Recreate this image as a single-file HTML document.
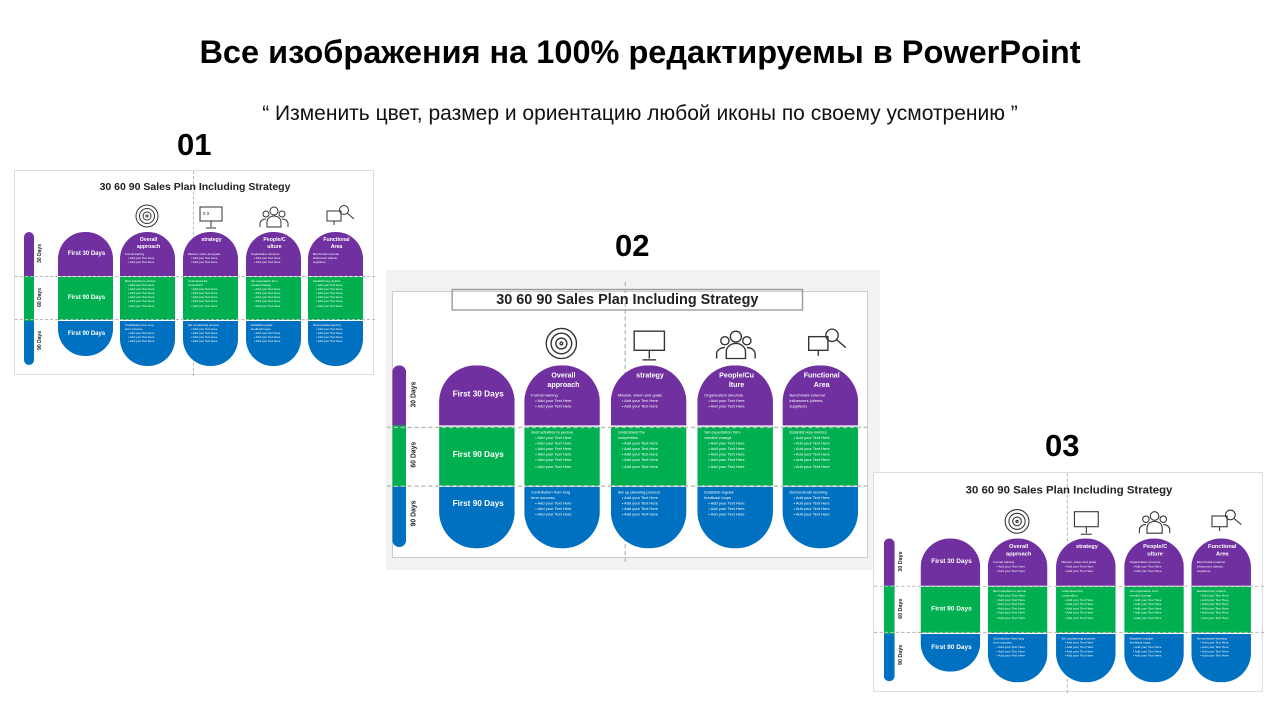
<!DOCTYPE html>
<html><head><meta charset="utf-8">
<style>
*{margin:0;padding:0;box-sizing:border-box}
body{width:1280px;height:720px;background:#fff;position:relative;overflow:hidden;font-family:"Liberation Sans",sans-serif}
.h1{position:absolute;top:34px;left:0;width:1280px;text-align:center;font-weight:bold;font-size:32.5px;color:#000}
.h2{position:absolute;top:102px;left:0;width:1280px;text-align:center;font-size:21px;color:#111}
.num{position:absolute;font-weight:bold;font-size:31px;color:#000}
.slide{position:absolute;width:360px;height:205px;background:#fff;border:1px solid #ddd;transform-origin:0 0}
.st{position:absolute;top:10px;left:0;width:360px;text-align:center;font-weight:bold;font-size:10.5px;color:#222}
.bar{position:absolute;left:9px;top:61px;width:10px;height:133px;border-radius:5px;overflow:hidden}
.bar div{height:33.3%}
.dl{position:absolute;left:22px;width:16px;font-size:5px;font-weight:bold;color:#222;writing-mode:vertical-rl;transform:rotate(180deg);text-align:center}
.col{position:absolute;top:61px;width:55px;height:134px;border-radius:27px;overflow:hidden;color:#fff}
.col>div{position:absolute;left:0;width:100%;padding:0 3px 0 5px}
.p{background:#7030a0;top:0;height:44px}
.g{background:#00b050;top:45px;height:43px}
.b{background:#0070c0;top:89px;height:45px}
.hd{text-align:center;font-weight:bold;font-size:5.2px;line-height:6.5px;padding-top:5px}
.tx{font-size:2.9px;line-height:4.1px;padding-top:2px;text-align:left}
.tx i{font-style:normal;display:block;padding-left:3px}
.big{font-weight:bold;font-size:6px;text-align:center}
.dash{position:absolute;border-color:#bbb;border-style:dashed;border-width:0}
</style></head><body>
<div class="h1">Все изображения на 100% редактируемы в PowerPoint</div>
<div class="h2">“ Изменить цвет, размер и ориентацию любой иконы по своему усмотрению ”</div>
<div class="num" style="left:177px;top:127px">01</div>
<div class="num" style="left:615px;top:228px">02</div>
<div class="num" style="left:1045px;top:428px">03</div>
<div style="position:absolute;left:386px;top:270px;width:494px;height:300px;background:#f2f2f2"></div>
<div style="position:absolute;left:392px;top:291px;width:476px;height:267px;background:#fff;border:1px solid #ccc"></div>

<div class="slide" style="left:14px;top:170px">
<div class="dash" style="left:178px;top:0;height:205px;border-left-width:1px"></div>
<div class="st">30 60 90 Sales Plan Including Strategy</div>
<svg style="position:absolute;left:0;top:0" width="360" height="205"><g fill="none" stroke="#333" stroke-width="1">
<circle cx="132" cy="45" r="11"/><circle cx="132" cy="45" r="7.5"/><circle cx="132" cy="45" r="4"/><circle cx="132" cy="45" r="1"/>
<rect x="185" y="36" width="22" height="14"/><line x1="196" y1="50" x2="196" y2="56"/><line x1="191" y1="57" x2="201" y2="57"/>
<text x="188" y="44" font-size="5" fill="#222" stroke="none">x x</text>
<circle cx="259" cy="40" r="4"/><path d="M252 56v-5a7 6 0 0 1 14 0v5z"/><circle cx="251" cy="43" r="3"/><circle cx="267" cy="43" r="3"/><path d="M245 56v-4a6 5 0 0 1 6-4M273 56v-4a6 5 0 0 0-6-4"/>
<rect x="312" y="40" width="14" height="10"/><line x1="319" y1="50" x2="319" y2="54"/><circle cx="329" cy="39" r="4.5"/><line x1="332" y1="42" x2="339" y2="48"/>
</g></svg>
<div class="bar"><div style="background:#7030a0"></div><div style="background:#00b050"></div><div style="background:#0070c0"></div></div>
<div class="dl" style="top:73px">30 Days</div><div class="dl" style="top:117px">60 Days</div><div class="dl" style="top:160px">90 Days</div>
<div class="col" style="left:43px;height:124px"><div class="p"><div class="big" style="padding-top:19px">First 30 Days</div></div><div class="g"><div class="big" style="padding-top:18px">First 90 Days</div></div><div class="b" style="height:35px"><div class="big" style="padding-top:10px">First 90 Days</div></div></div>
<div class="col" style="left:105px"><div class="p"><div class="hd">Overall<br>approach</div><div class="tx">Formal training<i>• Add your Text Here</i><i>• Add your Text Here</i></div></div><div class="g"><div class="tx">Best activities to pursue<i>• Add your Text Here</i><i>• Add your Text Here</i><i>• Add your Text Here</i><i>• Add your Text Here</i><i>• Add your Text Here</i><i>• Add your Text Here</i></div></div><div class="b"><div class="tx">Contribution from long<br>term success.<i>• Add your Text Here</i><i>• Add your Text Here</i><i>• Add your Text Here</i></div></div></div>
<div class="col" style="left:168px"><div class="p"><div class="hd">strategy<br>&nbsp;</div><div class="tx">Mission, vision and goals<i>• Add your Text Here</i><i>• Add your Text Here</i></div></div><div class="g"><div class="tx">Understand the<br>competition<i>• Add your Text Here</i><i>• Add your Text Here</i><i>• Add your Text Here</i><i>• Add your Text Here</i><i>• Add your Text Here</i></div></div><div class="b"><div class="tx">Set up planning process<i>• Add your Text Here</i><i>• Add your Text Here</i><i>• Add your Text Here</i><i>• Add your Text Here</i></div></div></div>
<div class="col" style="left:231px"><div class="p"><div class="hd">People/C<br>ulture</div><div class="tx">Organization structure<i>• Add your Text Here</i><i>• Add your Text Here</i></div></div><div class="g"><div class="tx">Set expectation form<br>needed change<i>• Add your Text Here</i><i>• Add your Text Here</i><i>• Add your Text Here</i><i>• Add your Text Here</i><i>• Add your Text Here</i></div></div><div class="b"><div class="tx">Establish regular<br>feedback loops<i>• Add your Text Here</i><i>• Add your Text Here</i><i>• Add your Text Here</i></div></div></div>
<div class="col" style="left:293px"><div class="p"><div class="hd">Functional<br>Area</div><div class="tx">Benchmark external<br>influencers (clients,<br>suppliers)</div></div><div class="g"><div class="tx">Establish key metrics<i>• Add your Text Here</i><i>• Add your Text Here</i><i>• Add your Text Here</i><i>• Add your Text Here</i><i>• Add your Text Here</i><i>• Add your Text Here</i></div></div><div class="b"><div class="tx">Demonstrate learning<i>• Add your Text Here</i><i>• Add your Text Here</i><i>• Add your Text Here</i><i>• Add your Text Here</i></div></div></div>
<div class="dash" style="left:0;top:105px;width:360px;border-top-width:1px"></div>
<div class="dash" style="left:0;top:148px;width:360px;border-top-width:1px"></div>
</div>

<div class="slide" style="left:380px;top:282px;transform:scale(1.374,1.366);background:transparent;border:none">
<div class="dash" style="left:178px;top:0;height:205px;border-left-width:1px"></div>
<div class="st" style="top:7px"><span style="border:1px solid #999;padding:1px 32px">30 60 90 Sales Plan Including Strategy</span></div>
<svg style="position:absolute;left:0;top:0" width="360" height="205"><g fill="none" stroke="#333" stroke-width="1">
<circle cx="132" cy="45" r="11"/><circle cx="132" cy="45" r="7.5"/><circle cx="132" cy="45" r="4"/><circle cx="132" cy="45" r="1"/>
<rect x="185" y="36" width="22" height="14"/><line x1="196" y1="50" x2="196" y2="56"/><line x1="191" y1="57" x2="201" y2="57"/>
<circle cx="259" cy="40" r="4"/><path d="M252 56v-5a7 6 0 0 1 14 0v5z"/><circle cx="251" cy="43" r="3"/><circle cx="267" cy="43" r="3"/><path d="M245 56v-4a6 5 0 0 1 6-4M273 56v-4a6 5 0 0 0-6-4"/>
<rect x="312" y="40" width="14" height="10"/><line x1="319" y1="50" x2="319" y2="54"/><circle cx="329" cy="39" r="4.5"/><line x1="332" y1="42" x2="339" y2="48"/>
</g></svg>
<div class="bar"><div style="background:#7030a0"></div><div style="background:#00b050"></div><div style="background:#0070c0"></div></div>
<div class="dl" style="top:73px">30 Days</div><div class="dl" style="top:117px">60 Days</div><div class="dl" style="top:160px">90 Days</div>
<div class="col" style="left:43px"><div class="p"><div class="big" style="padding-top:19px">First 30 Days</div></div><div class="g"><div class="big" style="padding-top:18px">First 90 Days</div></div><div class="b"><div class="big" style="padding-top:10px">First 90 Days</div></div></div>
<div class="col" style="left:105px"><div class="p"><div class="hd">Overall<br>approach</div><div class="tx">Formal training<i>• Add your Text Here</i><i>• Add your Text Here</i></div></div><div class="g"><div class="tx">Best activities to pursue<i>• Add your Text Here</i><i>• Add your Text Here</i><i>• Add your Text Here</i><i>• Add your Text Here</i><i>• Add your Text Here</i><i>• Add your Text Here</i></div></div><div class="b"><div class="tx">Contribution from long<br>term success.<i>• Add your Text Here</i><i>• Add your Text Here</i><i>• Add your Text Here</i></div></div></div>
<div class="col" style="left:168px"><div class="p"><div class="hd">strategy<br>&nbsp;</div><div class="tx">Mission, vision and goals<i>• Add your Text Here</i><i>• Add your Text Here</i></div></div><div class="g"><div class="tx">Understand the<br>competition<i>• Add your Text Here</i><i>• Add your Text Here</i><i>• Add your Text Here</i><i>• Add your Text Here</i><i>• Add your Text Here</i></div></div><div class="b"><div class="tx">Set up planning process<i>• Add your Text Here</i><i>• Add your Text Here</i><i>• Add your Text Here</i><i>• Add your Text Here</i></div></div></div>
<div class="col" style="left:231px"><div class="p"><div class="hd">People/Cu<br>lture</div><div class="tx">Organization structure<i>• Add your Text Here</i><i>• Add your Text Here</i></div></div><div class="g"><div class="tx">Set expectation form<br>needed change<i>• Add your Text Here</i><i>• Add your Text Here</i><i>• Add your Text Here</i><i>• Add your Text Here</i><i>• Add your Text Here</i></div></div><div class="b"><div class="tx">Establish regular<br>feedback loops<i>• Add your Text Here</i><i>• Add your Text Here</i><i>• Add your Text Here</i></div></div></div>
<div class="col" style="left:293px"><div class="p"><div class="hd">Functional<br>Area</div><div class="tx">Benchmark external<br>influencers (clients,<br>suppliers)</div></div><div class="g"><div class="tx">Establish key metrics<i>• Add your Text Here</i><i>• Add your Text Here</i><i>• Add your Text Here</i><i>• Add your Text Here</i><i>• Add your Text Here</i><i>• Add your Text Here</i></div></div><div class="b"><div class="tx">Demonstrate learning<i>• Add your Text Here</i><i>• Add your Text Here</i><i>• Add your Text Here</i><i>• Add your Text Here</i></div></div></div>
<div class="dash" style="left:5px;top:106px;width:350px;border-top-width:1px"></div>
<div class="dash" style="left:5px;top:149px;width:350px;border-top-width:1px"></div>
</div>

<div class="slide" style="left:873px;top:472px;transform:scale(1.083,1.073)">
<div class="dash" style="left:178px;top:0;height:205px;border-left-width:1px"></div>
<div class="st">30 60 90 Sales Plan Including Strategy</div>
<svg style="position:absolute;left:0;top:0" width="360" height="205"><g fill="none" stroke="#333" stroke-width="1">
<circle cx="132" cy="45" r="11"/><circle cx="132" cy="45" r="7.5"/><circle cx="132" cy="45" r="4"/><circle cx="132" cy="45" r="1"/>
<rect x="185" y="36" width="22" height="14"/><line x1="196" y1="50" x2="196" y2="56"/><line x1="191" y1="57" x2="201" y2="57"/>
<circle cx="259" cy="40" r="4"/><path d="M252 56v-5a7 6 0 0 1 14 0v5z"/><circle cx="251" cy="43" r="3"/><circle cx="267" cy="43" r="3"/><path d="M245 56v-4a6 5 0 0 1 6-4M273 56v-4a6 5 0 0 0-6-4"/>
<rect x="312" y="40" width="14" height="10"/><line x1="319" y1="50" x2="319" y2="54"/><circle cx="329" cy="39" r="4.5"/><line x1="332" y1="42" x2="339" y2="48"/>
</g></svg>
<div class="bar"><div style="background:#7030a0"></div><div style="background:#00b050"></div><div style="background:#0070c0"></div></div>
<div class="dl" style="top:73px">30 Days</div><div class="dl" style="top:117px">60 Days</div><div class="dl" style="top:160px">90 Days</div>
<div class="col" style="left:43px;height:124px"><div class="p"><div class="big" style="padding-top:19px">First 30 Days</div></div><div class="g"><div class="big" style="padding-top:18px">First 90 Days</div></div><div class="b" style="height:35px"><div class="big" style="padding-top:10px">First 90 Days</div></div></div>
<div class="col" style="left:105px"><div class="p"><div class="hd">Overall<br>approach</div><div class="tx">Formal training<i>• Add your Text Here</i><i>• Add your Text Here</i></div></div><div class="g"><div class="tx">Best activities to pursue<i>• Add your Text Here</i><i>• Add your Text Here</i><i>• Add your Text Here</i><i>• Add your Text Here</i><i>• Add your Text Here</i><i>• Add your Text Here</i></div></div><div class="b"><div class="tx">Contribution from long<br>term success.<i>• Add your Text Here</i><i>• Add your Text Here</i><i>• Add your Text Here</i></div></div></div>
<div class="col" style="left:168px"><div class="p"><div class="hd">strategy<br>&nbsp;</div><div class="tx">Mission, vision and goals<i>• Add your Text Here</i><i>• Add your Text Here</i></div></div><div class="g"><div class="tx">Understand the<br>competition<i>• Add your Text Here</i><i>• Add your Text Here</i><i>• Add your Text Here</i><i>• Add your Text Here</i><i>• Add your Text Here</i></div></div><div class="b"><div class="tx">Set up planning process<i>• Add your Text Here</i><i>• Add your Text Here</i><i>• Add your Text Here</i><i>• Add your Text Here</i></div></div></div>
<div class="col" style="left:231px"><div class="p"><div class="hd">People/C<br>ulture</div><div class="tx">Organization structure<i>• Add your Text Here</i><i>• Add your Text Here</i></div></div><div class="g"><div class="tx">Set expectation form<br>needed change<i>• Add your Text Here</i><i>• Add your Text Here</i><i>• Add your Text Here</i><i>• Add your Text Here</i><i>• Add your Text Here</i></div></div><div class="b"><div class="tx">Establish regular<br>feedback loops<i>• Add your Text Here</i><i>• Add your Text Here</i><i>• Add your Text Here</i></div></div></div>
<div class="col" style="left:293px"><div class="p"><div class="hd">Functional<br>Area</div><div class="tx">Benchmark external<br>influencers (clients,<br>suppliers)</div></div><div class="g"><div class="tx">Establish key metrics<i>• Add your Text Here</i><i>• Add your Text Here</i><i>• Add your Text Here</i><i>• Add your Text Here</i><i>• Add your Text Here</i><i>• Add your Text Here</i></div></div><div class="b"><div class="tx">Demonstrate learning<i>• Add your Text Here</i><i>• Add your Text Here</i><i>• Add your Text Here</i><i>• Add your Text Here</i></div></div></div>
<div class="dash" style="left:0;top:105px;width:360px;border-top-width:1px"></div>
<div class="dash" style="left:0;top:148px;width:360px;border-top-width:1px"></div>
</div>
</body></html>
